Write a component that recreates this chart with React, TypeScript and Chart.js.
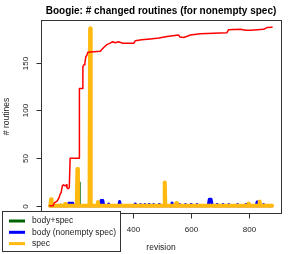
import React, { useEffect, useRef } from "react";
import { Chart, registerables } from "chart.js";

Chart.register(...registerables);

const titleText = "Boogie: # changed routines (for nonempty spec)";
const xAxisTitle = "revision";
const yAxisTitle = "# routines";
const xTicks = [200, 400, 600, 800];
const yTicks = [0, 50, 100, 150];

const legendLabels = ["body+spec", "body (nonempty spec)", "spec"];
const legendColors = ["#006400", "#0000FF", "#FFB90F"];

const redRevisions = [113, 124, 128, 138, 144, 148, 152, 156, 160, 166, 170, 172, 176, 180, 182, 183, 214, 215, 226, 227, 231, 234, 237, 241, 244, 287, 299, 310, 321, 330, 339, 350, 365, 403, 408, 430, 460, 490, 518, 558, 562, 575, 590, 598, 633, 679, 725, 730, 771, 790, 806, 830, 852, 864, 881];
const redValues = [0, 0, 3, 5, 8, 12, 14, 21, 22, 21, 22, 19, 18, 19, 19, 50, 50, 123, 123, 146, 148, 150, 156, 158, 161, 162, 166, 169, 170.5, 172, 171, 172, 170.5, 170.5, 173, 174, 175, 176, 177.5, 179, 177, 176.5, 178, 179, 180.5, 181, 181.5, 184.5, 185, 184, 184, 184.5, 185, 187, 187.3];

const specRevisions = [113, 115, 117, 119, 164, 166, 168, 206, 208, 210, 250, 252, 254, 277, 279, 281, 508, 510, 512, 548, 550, 552, 798, 800, 802, 836, 838, 840, 881];
const specValues = [0, 0, 7, 0, 0, 2, 0, 0, 38.5, 0, 0, 186, 0, 0, 4, 0, 0, 24.5, 0, 0, 3, 0, 0, 2.5, 0, 0, 4.5, 0, 0];

const bodyRevisions = [113, 176, 178, 192, 194, 287, 290, 296, 299, 314, 316, 318, 351, 354, 357, 405, 408, 411, 425, 426, 427, 440, 441, 442, 455, 456, 457, 470, 471, 472, 490, 491, 492, 532, 535, 538, 560, 561, 562, 580, 581, 582, 600, 601, 602, 620, 621, 622, 660, 664, 670, 674, 690, 691, 692, 710, 711, 712, 730, 731, 732, 760, 761, 762, 790, 791, 792, 826, 829, 832, 850, 851, 852, 881];
const bodyValues = [0, 0, 2.8, 2.8, 0, 0, 5.5, 5.5, 0, 0, 2, 0, 0, 4.5, 0, 0, 2, 0, 0, 1.5, 0, 0, 1.5, 0, 0, 1.5, 0, 0, 1.5, 0, 0, 1.5, 0, 0, 3, 0, 0, 1.5, 0, 0, 1.5, 0, 0, 1.5, 0, 0, 1.5, 0, 0, 7, 7, 0, 0, 1.5, 0, 0, 1.5, 0, 0, 1.5, 0, 0, 1.5, 0, 0, 1.5, 0, 0, 4, 0, 0, 1.5, 0, 0];

const bodySpecRevisions = [113, 148, 150, 152, 212, 214, 216, 550, 552, 554, 881];
const bodySpecValues = [0, 0, 1.5, 0, 0, 24.4, 0, 0, 2.5, 0, 0];

const toPoints = (xs: number[], ys: number[]) => xs.map((x, i) => ({ x, y: ys[i] }));

function extendRange(vals: number[]) {
  const mn = Math.min(...vals);
  const mx = Math.max(...vals);
  const r = mx - mn;
  return { min: mn - 0.04 * r, max: mx + 0.04 * r };
}

const FONT = "'Liberation Sans', Arial, Helvetica, sans-serif";

const decorPlugin = {
  id: "rdecor",
  afterDraw(chart: any) {
    const ctx = chart.ctx as CanvasRenderingContext2D;
    const area = chart.chartArea;
    const xs = chart.scales.x;
    const ys = chart.scales.y;
    ctx.save();
    // box
    ctx.strokeStyle = "#333";
    ctx.lineWidth = 1;
    ctx.strokeRect(Math.round(area.left) + 0.5, Math.round(area.top) + 0.5, Math.round(area.right - area.left) - 1 + 1, Math.round(area.bottom - area.top));
    // x ticks
    ctx.fillStyle = "#222";
    ctx.font = `8px ${FONT}`;
    ctx.textAlign = "center";
    ctx.textBaseline = "middle";
    const xb = Math.round(area.bottom) + 0.5;
    xTicks.forEach((t) => {
      const px = Math.round(xs.getPixelForValue(t)) + 0.5;
      ctx.beginPath();
      ctx.moveTo(px, xb);
      ctx.lineTo(px, xb + 5);
      ctx.stroke();
      ctx.fillText(String(t), px, 229.5);
    });
    // y ticks
    const yl = Math.round(area.left) + 0.5;
    yTicks.forEach((t) => {
      const py = Math.round(ys.getPixelForValue(t)) + 0.5;
      ctx.beginPath();
      ctx.moveTo(yl, py);
      ctx.lineTo(yl - 5, py);
      ctx.stroke();
      ctx.save();
      ctx.translate(26, py);
      ctx.rotate(-Math.PI / 2);
      ctx.fillText(String(t), 0, 0);
      ctx.restore();
    });
    // axis titles
    ctx.font = `8.5px ${FONT}`;
    ctx.fillText(xAxisTitle, (area.left + area.right) / 2, 248);
    ctx.save();
    ctx.translate(7, (area.top + area.bottom) / 2);
    ctx.rotate(-Math.PI / 2);
    ctx.fillText(yAxisTitle, 0, 0);
    ctx.restore();
    // title
    ctx.fillStyle = "#000";
    ctx.font = `bold 10px ${FONT}`;
    ctx.fillText(titleText, (area.left + area.right) / 2, 11);
    // legend
    ctx.fillStyle = "#fff";
    ctx.fillRect(2.5, 211.5, 118, 40);
    ctx.strokeStyle = "#333";
    ctx.strokeRect(2.5, 211.5, 118, 40);
    ctx.font = `8.5px ${FONT}`;
    ctx.textAlign = "left";
    legendLabels.forEach((lab, i) => {
      const y = 221 + i * 11.3;
      ctx.strokeStyle = legendColors[i];
      ctx.lineWidth = 3;
      ctx.beginPath();
      ctx.moveTo(9, y);
      ctx.lineTo(25, y);
      ctx.stroke();
      ctx.fillStyle = "#222";
      ctx.fillText(lab, 32, y);
    });
    ctx.restore();
  },
};

export default function App() {
  const ref = useRef<HTMLCanvasElement | null>(null);
  useEffect(() => {
    if (!ref.current) return;
    const allX = [...redRevisions, ...specRevisions, ...bodyRevisions, ...bodySpecRevisions];
    const allY = [...redValues, ...specValues, ...bodyValues, ...bodySpecValues];
    const xr = extendRange(allX);
    const yr = extendRange(allY);
    const common = {
      pointRadius: 0,
      borderCapStyle: "round",
      borderJoinStyle: "round",
      tension: 0,
      fill: false,
    };
    const chart = new Chart(ref.current, {
      type: "line",
      data: {
        datasets: [
          { ...common, label: "total", data: toPoints(redRevisions, redValues), borderColor: "#FF0000", borderWidth: 1.5 },
          { ...common, label: "spec", data: toPoints(specRevisions, specValues), borderColor: "#FFB90F", borderWidth: 4 },
          { ...common, label: "body+spec", data: toPoints(bodySpecRevisions, bodySpecValues), borderColor: "#006400", borderWidth: 2 },
          { ...common, label: "body (nonempty spec)", data: toPoints(bodyRevisions, bodyValues), borderColor: "#0000FF", borderWidth: 3 },
        ] as any,
      },
      options: {
        animation: false,
        responsive: false,
        devicePixelRatio: 1,
        layout: { padding: { left: 41, right: 13, top: 20, bottom: 41 } },
        plugins: { legend: { display: false }, title: { display: false }, tooltip: { enabled: false } },
        scales: {
          x: { type: "linear", min: xr.min, max: xr.max, display: false },
          y: { type: "linear", min: yr.min, max: yr.max, display: false },
        },
      } as any,
      plugins: [decorPlugin],
    });
    return () => chart.destroy();
  }, []);
  return (
    <div style={{ position: "absolute", left: 0, top: 0, width: 294, height: 254, background: "#fff" }}>
      <canvas ref={ref} width={294} height={254} style={{ width: 294, height: 254, display: "block" }} />
    </div>
  );
}
